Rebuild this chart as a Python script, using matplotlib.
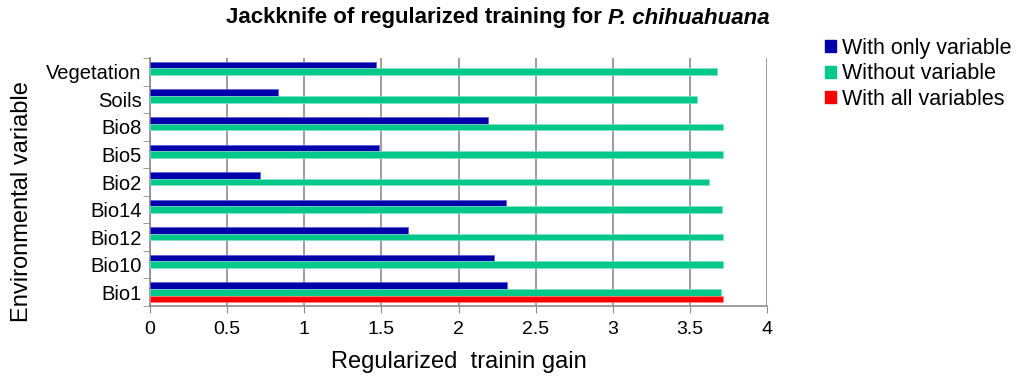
import matplotlib
matplotlib.use("Agg")
import matplotlib.pyplot as plt
import numpy as np
from matplotlib.patches import Patch

categories = ["Bio1", "Bio10", "Bio12", "Bio14", "Bio2", "Bio5", "Bio8", "Soils", "Vegetation"]
with_only = [2.315, 2.227, 1.675, 2.307, 0.714, 1.484, 2.19, 0.833, 1.468]
without = [3.70, 3.716, 3.716, 3.708, 3.623, 3.716, 3.716, 3.546, 3.676]
with_all = [3.716, 0, 0, 0, 0, 0, 0, 0, 0]
xticks = [0, 0.5, 1, 1.5, 2, 2.5, 3, 3.5, 4]
xticklabels = ["0", "0.5", "1", "1.5", "2", "2.5", "3", "3.5", "4"]

plt.rcParams['font.family'] = ['Liberation Sans', 'DejaVu Sans']

fig = plt.figure(figsize=(10.24, 3.86), dpi=100)
ax = fig.add_axes([150/1024, 1-306/386, (767-150)/1024, (306-58)/386])

blue = "#0000AA"
green = "#00C78A"
red = "#FF0000"
h = 0.24
y = np.arange(len(categories))
ax.barh(y + h, with_only, height=h, color=blue, edgecolor="#5a5ad8", linewidth=0.5, zorder=3)
ax.barh(y, without, height=h, color=green, edgecolor="#7fe3c4", linewidth=0.5, zorder=3)
vals_all = np.array(with_all)
mask = vals_all > 0
ax.barh(y[mask] - h, vals_all[mask], height=h, color=red, edgecolor="#ff7f7f", linewidth=0.5, zorder=3)

ax.set_xlim(0, 4)
ax.set_ylim(-0.5, len(categories) - 0.5)
ax.set_xticks(xticks)
ax.set_xticklabels(xticklabels, fontsize=14)
ax.set_yticks(y)
ax.set_yticklabels(categories, fontsize=14.5)
ax.set_yticks(np.arange(-0.5, len(categories), 1), minor=True)
ax.tick_params(axis='y', which='major', length=0, pad=6)
ax.tick_params(axis='y', which='minor', length=5, color="#8c8c8c", direction='out')
ax.tick_params(axis='x', length=5, color="#8c8c8c", direction='out', pad=6)
ax.grid(axis='x', color="#8c8c8c", linewidth=1.2, zorder=0)
for s in ["top", "right"]:
    ax.spines[s].set_visible(False)
for s in ["left", "bottom"]:
    ax.spines[s].set_color("#8c8c8c")
    ax.spines[s].set_linewidth(1.2)

ax.set_xlabel("Regularized  trainin gain", fontsize=17, labelpad=9)
fig.text(22/1024, 1-202/386, "Environmental variable", rotation=90, fontsize=17,
         ha='center', va='center')

# Title: bold regular part + bold italic species name
renderer = fig.canvas.get_renderer()
tfs = 16
t1 = fig.text(0, 1-18/386, "Jackknife of regularized training for ", fontsize=tfs,
              fontweight='bold', ha='left', va='center')
t2 = fig.text(0, 1-18/386, "P. chihuahuana", fontsize=tfs, fontweight='bold',
              fontstyle='italic', ha='left', va='center')
w1 = t1.get_window_extent(renderer).width
w2 = t2.get_window_extent(renderer).width
cx = 498
x0 = cx - (w1 + w2) / 2
t1.set_x(x0 / 1024)
t2.set_x((x0 + w1) / 1024)

handles = [Patch(facecolor=blue, edgecolor=blue),
           Patch(facecolor=green, edgecolor=green),
           Patch(facecolor=red, edgecolor=red)]
labels = ["With only variable", "Without variable", "With all variables"]
fig.legend(handles, labels, loc='upper left', bbox_to_anchor=(825/1024, 1-38/386),
           frameon=False, fontsize=15.5, handlelength=0.5, handleheight=0.5,
           handletextpad=0.3, labelspacing=0.2, borderaxespad=0, borderpad=0)

fig.savefig("out.png", dpi=100)
